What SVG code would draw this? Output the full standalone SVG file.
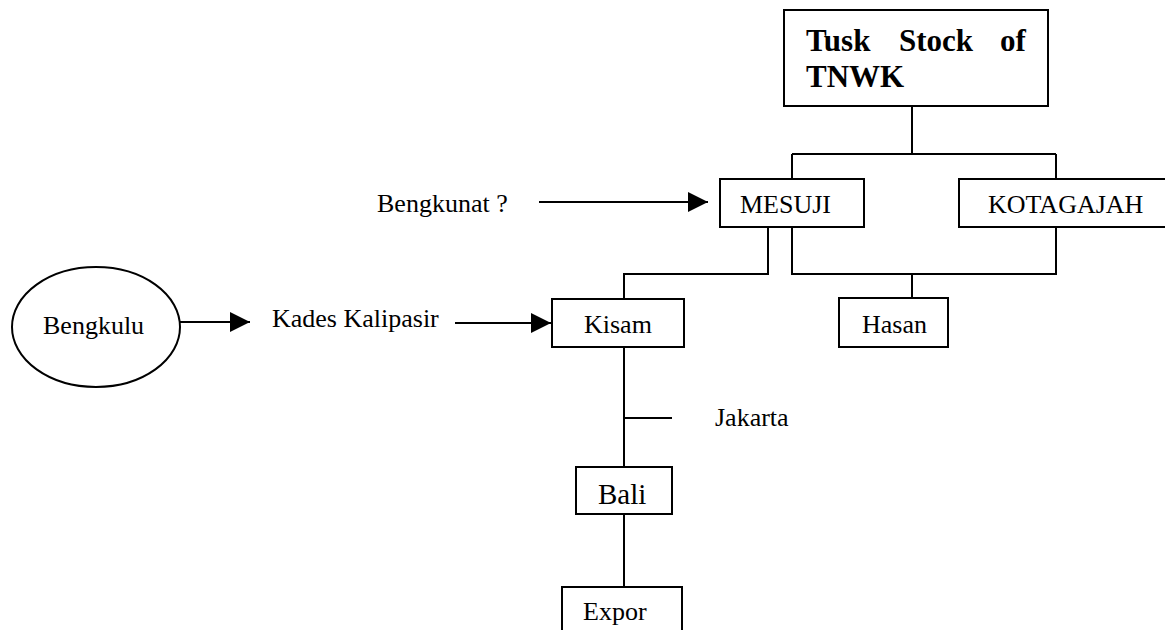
<svg xmlns="http://www.w3.org/2000/svg" width="1165" height="630" viewBox="0 0 1165 630">
<style>
.box{fill:#fff;stroke:#000;stroke-width:2}
.ln{fill:none;stroke:#000;stroke-width:2}
.t{font-family:"Liberation Serif","Times New Roman",serif;font-size:26px;fill:#000}
.tb{font-family:"Liberation Serif","Times New Roman",serif;font-size:31px;font-weight:bold;fill:#000}
</style>
<defs>
<marker id="ah" markerUnits="userSpaceOnUse" markerWidth="20" markerHeight="20" refX="20" refY="10" orient="auto">
<path d="M0,0 L20,10 L0,20 z" fill="#000"/>
</marker>
</defs>
<rect width="1165" height="630" fill="#fff"/>
<g id="connectors">
<path class="ln" d="M912,106 V154 M792,154 H1056 M792,154 V179 M1056,154 V179"/>
<path class="ln" d="M768,227 V274 H624 V299"/>
<path class="ln" d="M792,227 V274 H1056 V227 M912,274 V298"/>
<path class="ln" d="M624,347 V467 M624,418 H672 M624,514 V587"/>
<line class="ln" x1="539" y1="202" x2="708" y2="202" marker-end="url(#ah)"/>
<line class="ln" x1="180" y1="322" x2="250" y2="322" marker-end="url(#ah)"/>
<line class="ln" x1="455" y1="323" x2="551" y2="323" marker-end="url(#ah)"/>
</g>
<g id="tusk">
<rect class="box" x="784" y="10" width="264" height="96"/>
<text class="tb" y="51"><tspan x="806">Tusk</tspan><tspan x="899">Stock</tspan><tspan x="1000">of</tspan></text>
<text class="tb" x="806" y="87">TNWK</text>
</g>
<g id="mesuji">
<rect class="box" x="720" y="179" width="144" height="48"/>
<text class="t" x="740" y="213">MESUJI</text>
</g>
<g id="kotagajah">
<rect class="box" x="959" y="179" width="215" height="48"/>
<text class="t" x="988" y="213">KOTAGAJAH</text>
</g>
<g id="bengkunat">
<text class="t" x="377" y="212">Bengkunat ?</text>
</g>
<g id="bengkulu">
<ellipse class="box" cx="96" cy="327" rx="84" ry="60"/>
<text class="t" x="43" y="334">Bengkulu</text>
</g>
<g id="kades">
<text class="t" x="272" y="327">Kades Kalipasir</text>
</g>
<g id="kisam">
<rect class="box" x="552" y="299" width="132" height="48"/>
<text class="t" x="584" y="333">Kisam</text>
</g>
<g id="hasan">
<rect class="box" x="839" y="298" width="109" height="49"/>
<text class="t" x="862" y="333">Hasan</text>
</g>
<g id="jakarta">
<text class="t" x="715" y="426">Jakarta</text>
</g>
<g id="bali">
<rect class="box" x="576" y="467" width="96" height="47"/>
<text class="t" x="598" y="504" style="font-size:29px">Bali</text>
</g>
<g id="expor">
<rect class="box" x="562" y="587" width="120" height="60"/>
<text class="t" x="583" y="620">Expor</text>
</g>
</svg>
